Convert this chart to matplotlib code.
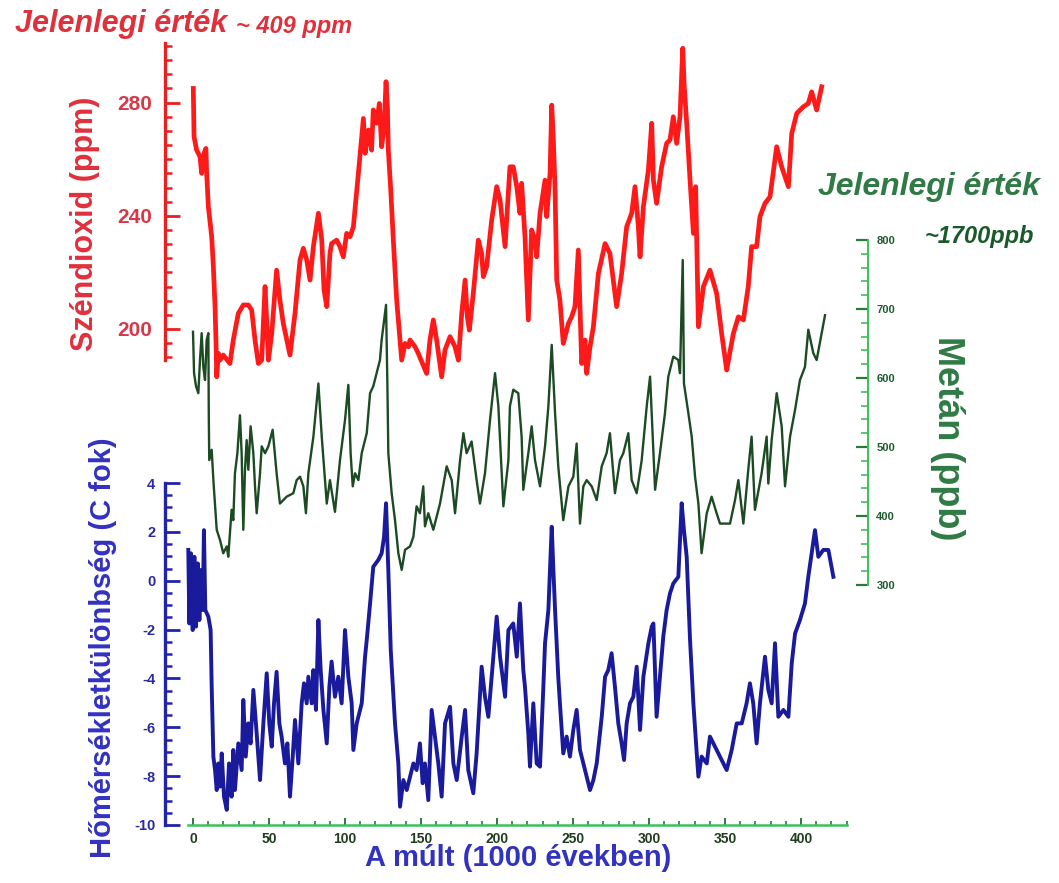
import matplotlib
matplotlib.use('Agg')
import matplotlib.pyplot as plt
from matplotlib.ticker import MultipleLocator, FixedLocator

plt.rcParams['font.family'] = ['Liberation Sans', 'DejaVu Sans']
plt.rcParams['axes.unicode_minus'] = False

# age in 1000 years before present
co2_age = [0.2, 0.7, 2.4, 4.6, 5.7, 7.2, 8.5, 9.0, 10.1, 11.6, 12.3, 13.4, 14.5, 15.1, 15.6,
           16.7, 17.8, 19.9, 24.3, 26.5, 29.8, 33.1, 36.4, 38.6, 40.8, 43.0, 45.2, 47.4, 48.9,
           49.6, 51.8, 55.0, 57.2, 59.4, 63.8, 67.1, 70.4, 72.6, 74.8, 77.0, 79.2, 82.5, 84.7,
           86.2, 88.0, 90.1, 91.2, 94.5, 96.7, 98.9, 101.1, 103.3, 105.5, 108.8, 112.1, 113.2,
           115.4, 117.5, 118.6, 120.8, 122.6, 124.1, 125.7, 127.0, 127.9, 128.5, 130.1, 131.8,
           134.0, 136.2, 137.3, 139.5, 141.7, 142.8, 146.1, 148.2, 153.7, 155.9, 158.1, 160.3,
           163.6, 165.8, 169.1, 172.4, 174.6, 176.8, 179.0, 180.5, 181.8, 184.4, 187.7, 189.9,
           191.0, 193.2, 196.5, 199.8, 202.0, 205.3, 208.5, 210.7, 213.0, 215.1, 216.2, 218.4,
           220.6, 222.8, 225.0, 226.1, 228.3, 231.6, 232.7, 234.9, 236.0, 237.1, 238.2, 239.3,
           241.4, 243.6, 247.0, 249.1, 251.3, 253.5, 254.6, 255.7, 257.9, 259.0, 261.2, 263.4,
           266.7, 271.1, 274.3, 278.7, 282.0, 285.3, 288.6, 290.8, 293.0, 294.1, 296.3, 299.6,
           301.8, 302.9, 305.0, 308.3, 311.6, 313.8, 316.0, 318.2, 320.4, 322.2, 323.2, 324.8,
           327.0, 329.2, 330.7, 332.5, 335.8, 340.1, 344.5, 347.8, 351.1, 355.5, 358.8, 362.1,
           365.3, 367.5, 370.8, 373.0, 376.3, 379.6, 384.0, 387.3, 391.7, 393.9, 397.2, 401.5,
           404.8, 407.0, 410.3, 413.6]
co2_ppm = [285.0, 267.9, 263.2, 260.9, 255.0, 262.1, 263.8, 255.0, 243.2, 236.1, 232.6, 222.0,
           207.9, 196.1, 183.1, 191.4, 189.0, 190.8, 187.8, 196.1, 205.5, 208.5, 208.5, 206.7,
           196.1, 187.8, 189.0, 215.0, 198.4, 189.0, 198.4, 220.8, 210.2, 202.0, 190.8, 205.5,
           224.4, 228.5, 224.4, 217.3, 229.1, 240.9, 231.4, 213.8, 207.9, 226.7, 230.2, 231.4,
           229.1, 225.5, 233.8, 232.6, 236.1, 255.0, 274.4, 262.1, 270.3, 263.2, 277.4, 272.7,
           279.7, 264.4, 271.5, 287.4, 278.5, 263.2, 249.1, 231.4, 210.2, 196.1, 189.0, 194.9,
           193.7, 196.1, 193.7, 191.4, 184.3, 196.1, 203.2, 196.1, 183.1, 192.6, 197.3, 193.7,
           189.0, 205.5, 217.3, 204.3, 199.6, 212.6, 231.4, 226.7, 218.5, 222.0, 238.5, 250.3,
           245.6, 229.1, 257.3, 257.3, 250.3, 240.9, 251.5, 232.6, 203.2, 235.0, 231.4, 225.5,
           240.9, 252.6, 239.7, 255.0, 279.1, 266.8, 249.1, 217.3, 210.2, 194.9, 202.0, 204.3,
           207.9, 227.9, 207.9, 187.8, 196.1, 184.3, 193.7, 200.8, 219.6, 230.2, 226.7, 207.9,
           219.6, 236.1, 240.9, 250.3, 236.1, 225.5, 243.2, 256.2, 272.7, 252.6, 244.4, 257.3,
           265.6, 266.8, 275.0, 265.6, 275.0, 299.2, 285.6, 272.7, 252.6, 233.8, 250.3, 200.8,
           215.0, 220.8, 212.6, 198.4, 185.5, 198.4, 204.3, 203.2, 215.0, 229.1, 229.1, 239.7,
           244.4, 246.7, 264.4, 257.3, 250.3, 269.1, 276.2, 278.5, 279.7, 283.8, 277.4, 285.6]

ch4_age = [0.0, 0.7, 2.0, 3.5, 4.6, 5.7, 6.8, 7.9, 9.0, 10.1, 10.4, 10.7, 12.3, 13.4, 15.6,
           17.8, 19.9, 22.2, 23.2, 24.3, 25.4, 26.5, 27.6, 29.2, 30.9, 32.0, 33.1, 34.2, 35.3,
           36.4, 37.9, 39.7, 40.8, 41.9, 44.1, 45.2, 47.4, 49.6, 52.4, 55.0, 57.2, 61.6, 66.0,
           68.2, 70.4, 72.6, 74.3, 75.9, 79.2, 82.5, 84.7, 88.0, 90.1, 93.4, 96.7, 100.0,
           102.2, 103.7, 105.1, 106.6, 108.8, 111.0, 114.3, 116.5, 118.6, 120.8, 123.0, 124.1,
           125.2, 127.0, 127.9, 128.5, 130.7, 132.9, 135.1, 137.3, 139.5, 142.8, 145.0, 147.1,
           149.3, 151.5, 152.6, 154.8, 158.1, 162.5, 166.9, 170.2, 172.4, 175.7, 177.9, 180.0,
           183.3, 186.6, 188.8, 192.1, 195.4, 198.7, 200.9, 204.2, 207.5, 208.5, 210.7, 214.0,
           216.2, 217.3, 220.6, 222.8, 225.0, 228.3, 231.6, 233.8, 236.0, 238.2, 240.3, 243.6,
           247.0, 250.2, 252.4, 254.6, 256.8, 259.0, 262.3, 265.6, 268.9, 272.1, 274.3, 277.6,
           280.9, 283.1, 286.4, 288.6, 291.9, 295.2, 298.5, 300.7, 304.0, 307.2, 310.5, 312.7,
           316.0, 319.3, 320.4, 322.2, 323.0, 325.9, 328.1, 330.3, 332.5, 334.6, 338.0, 341.2,
           344.5, 346.7, 353.3, 356.6, 358.8, 362.1, 365.3, 367.5, 369.7, 374.1, 377.4, 378.5,
           380.7, 384.0, 387.3, 389.5, 392.8, 396.1, 399.3, 402.6, 404.8, 408.1, 410.3, 413.6,
           415.8]
ch4_ppb = [667, 607, 588, 578, 626, 665, 616, 597, 655, 665, 540, 481, 496, 452, 380, 365, 346,
           356, 341, 375, 409, 394, 462, 491, 546, 491, 380, 467, 510, 467, 530, 491, 443, 404,
           462, 501, 491, 501, 525, 462, 418, 428, 433, 452, 457, 443, 404, 462, 515, 592, 515,
           418, 452, 406, 481, 539, 590, 491, 443, 462, 452, 491, 520, 578, 588, 607, 626, 655,
           674, 706, 588, 491, 433, 394, 346, 322, 351, 356, 370, 414, 404, 443, 385, 404, 380,
           418, 472, 452, 404, 481, 520, 491, 508, 452, 418, 462, 539, 607, 559, 414, 481, 559,
           583, 578, 515, 438, 491, 530, 481, 443, 501, 559, 648, 549, 472, 394, 443, 457, 505,
           389, 443, 452, 443, 423, 472, 491, 520, 433, 481, 491, 520, 452, 433, 481, 559, 602,
           438, 491, 549, 602, 631, 626, 607, 771, 592, 549, 515, 457, 418, 346, 404, 428, 404,
           389, 389, 423, 452, 389, 467, 515, 409, 462, 515, 447, 510, 578, 530, 443, 515, 554,
           597, 616, 670, 636, 626, 665, 691]

temp_age = [-3.1, -2.4, -1.3, -0.2, 0.9, 2.0, 3.1, 4.2, 5.3, 6.4, 7.2, 8.1, 10.1, 11.6, 12.3,
            13.4, 14.5, 15.6, 16.7, 17.8, 18.9, 20.4, 22.2, 23.7, 25.4, 26.5, 27.6, 29.8, 32.0,
            33.1, 34.7, 36.4, 37.9, 39.7, 41.4, 43.0, 44.1, 46.3, 48.5, 50.2, 51.8, 53.3, 55.0,
            56.8, 58.3, 60.5, 62.1, 63.8, 65.6, 67.1, 69.3, 71.5, 73.0, 74.8, 75.9, 78.1, 79.2,
            80.9, 82.5, 84.0, 85.8, 88.0, 89.7, 91.2, 93.4, 95.6, 97.8, 100.0, 102.2, 104.4,
            105.5, 107.7, 111.0, 113.2, 114.3, 116.5, 118.6, 121.9, 124.1, 125.7, 127.0, 128.5,
            130.1, 132.9, 135.1, 136.2, 138.4, 140.6, 142.8, 145.0, 147.1, 149.3, 151.1, 152.6,
            154.8, 157.0, 159.2, 161.4, 163.6, 165.8, 169.1, 171.3, 173.5, 176.8, 179.0, 181.1,
            184.4, 186.6, 189.9, 192.1, 194.3, 196.5, 199.8, 202.0, 205.3, 207.5, 210.7, 213.0,
            215.1, 217.3, 218.4, 220.6, 221.7, 223.9, 226.1, 228.3, 230.5, 231.6, 233.8, 236.0,
            237.1, 238.2, 240.3, 241.4, 243.6, 245.8, 248.0, 250.2, 252.4, 254.6, 256.8, 259.0,
            261.2, 263.4, 265.6, 268.9, 271.1, 273.2, 275.4, 277.6, 279.8, 282.0, 283.6, 285.3,
            287.5, 289.7, 291.9, 294.1, 296.3, 299.6, 301.8, 302.9, 305.0, 307.2, 309.4, 311.6,
            313.8, 316.0, 319.3, 321.5, 323.0, 324.8, 327.0, 329.2, 331.4, 332.5, 334.6, 338.0,
            340.1, 343.4, 345.6, 348.9, 351.1, 354.4, 357.7, 361.0, 364.2, 366.4, 368.6, 370.8,
            373.0, 376.3, 378.5, 380.7, 382.9, 385.1, 388.4, 391.7, 393.9, 396.1, 399.3, 402.6,
            404.8, 407.0, 409.2, 411.4, 414.7, 418.0, 421.3]
temp_diff = [1.26, -1.75, 1.12, -2.02, 0.98, -1.88, 0.71, -1.61, 0.44, -1.2, 2.07, -1.2, -1.47,
             -2.02, -4.34, -7.2, -7.75, -8.57, -7.48, -8.43, -7.07, -8.84, -9.38, -7.48, -8.84,
             -6.93, -8.57, -6.66, -7.75, -4.88, -7.2, -5.84, -6.66, -4.47, -5.84, -7.2, -8.16,
             -5.84, -3.79, -5.84, -6.79, -5.02, -3.73, -5.84, -6.38, -7.48, -6.66, -8.84, -7.2,
             -5.7, -7.48, -5.02, -4.2, -5.02, -3.93, -5.02, -3.66, -5.29, -1.61, -3.66, -5.29,
             -6.66, -4.34, -3.31, -4.75, -3.93, -5.02, -2.02, -3.93, -5.02, -6.93, -5.84, -5.02,
             -3.11, -2.43, -0.93, 0.57, 0.85, 1.12, 1.8, 3.17, 0.44, -2.84, -5.84, -7.48, -9.25,
             -8.16, -8.57, -8.02, -7.48, -7.75, -6.66, -8.29, -7.48, -8.98, -5.29, -6.38, -7.48,
             -8.84, -5.84, -5.16, -7.48, -8.16, -6.38, -5.29, -7.75, -8.7, -7.07, -3.52, -4.75,
             -5.57, -3.93, -1.47, -3.11, -4.75, -2.02, -1.75, -3.11, -0.93, -3.66, -4.34, -6.25,
             -7.61, -5.02, -7.48, -7.61, -4.34, -2.56, -1.2, 2.21, 0.44, -1.2, -3.93, -5.02,
             -7.07, -6.38, -7.2, -6.11, -5.29, -6.93, -7.48, -8.02, -8.57, -8.16, -7.48, -5.57,
             -3.93, -3.66, -2.97, -4.34, -5.84, -6.66, -7.34, -5.84, -5.02, -4.75, -3.52, -6.11,
             -3.93, -2.56, -1.88, -1.75, -5.57, -3.93, -2.29, -1.2, -0.52, -0.11, 0.16, 3.17,
             2.07, 0.98, -2.43, -5.02, -7.07, -8.02, -7.2, -7.48, -6.38, -6.79, -7.07, -7.48,
             -7.75, -6.93, -5.84, -5.84, -5.02, -4.2, -5.02, -6.66, -5.02, -3.11, -4.47, -5.02,
             -2.56, -5.57, -5.29, -5.57, -3.38, -2.16, -1.61, -0.93, 0.16, 1.12, 2.07, 0.98,
             1.26, 1.26, 0.16]

W, H = 1059, 883


def rect(left, top, right, bottom):
    return [left / W, 1 - bottom / H, (right - left) / W, (bottom - top) / H]


xlim = ((165 - 193) / 1.52, (868 - 193) / 1.52)

red = '#ff1a1a'
red_txt = '#e0303c'
dkgreen = '#1c4a22'
green_txt = '#2f7a45'
green_ax = '#3cc05a'
blue = '#1a1a9c'
blue_txt = '#3232c0'

fig = plt.figure(figsize=(W / 100, H / 100), dpi=100)

# CO2
ax_c = fig.add_axes(rect(165, 43, 868, 360))
ax_c.patch.set_visible(False)
ax_c.plot(co2_age, co2_ppm, color=red, lw=3.4, clip_on=False, zorder=3)
ax_c.set_xlim(xlim)
ax_c.set_ylim(200 + (329 - 360) / 2.83, 200 + (329 - 43) / 2.83)
for s in ['top', 'right', 'bottom']:
    ax_c.spines[s].set_visible(False)
ax_c.spines['left'].set_color('#e82020')
ax_c.spines['left'].set_linewidth(2.4)
ax_c.set_xticks([])
ax_c.yaxis.set_major_locator(MultipleLocator(40))
ax_c.yaxis.set_minor_locator(MultipleLocator(5))
ax_c.tick_params(axis='y', which='major', direction='in', length=11, width=2,
                 color='#e82020', labelcolor='#d83848', labelsize=15, pad=9)
ax_c.tick_params(axis='y', which='minor', direction='in', length=5, width=1.8, color='#e82020')
for lab in ax_c.get_yticklabels():
    lab.set_fontweight('bold')

# methane
ax_m = fig.add_axes(rect(165, 240, 868, 585))
ax_m.patch.set_visible(False)
ax_m.plot(ch4_age, ch4_ppb, color=dkgreen, lw=1.7, clip_on=False, zorder=2)
ax_m.set_xlim(xlim)
ax_m.set_ylim(300, 800)
for s in ['top', 'left', 'bottom']:
    ax_m.spines[s].set_visible(False)
ax_m.spines['right'].set_color(green_ax)
ax_m.spines['right'].set_linewidth(1.4)
ax_m.set_xticks([])
ax_m.yaxis.tick_right()
ax_m.yaxis.set_major_locator(MultipleLocator(100))
ax_m.yaxis.set_minor_locator(MultipleLocator(20))
ax_m.tick_params(axis='y', which='major', direction='in', length=9, width=1.6,
                 color='#2a7a3a', labelcolor='#1d5a2d', labelsize=8, pad=6)
ax_m.tick_params(axis='y', which='minor', direction='in', length=5, width=1.2, color=green_ax)
for lab in ax_m.get_yticklabels():
    lab.set_fontweight('bold')

# temperature + time axis
ax_t = fig.add_axes(rect(165, 483, 868, 825))
ax_t.patch.set_visible(False)
ax_t.plot(temp_age, temp_diff, color=blue, lw=2.8, clip_on=False, zorder=2)
ax_t.set_xlim(xlim)
ax_t.set_ylim(-10, 4)
for s in ['top', 'right']:
    ax_t.spines[s].set_visible(False)
ax_t.spines['left'].set_color('#2222aa')
ax_t.spines['left'].set_linewidth(2.4)
ax_t.spines['bottom'].set_color(green_ax)
ax_t.spines['bottom'].set_linewidth(1.8)
ax_t.spines['bottom'].set_bounds(-3, 430)
ax_t.yaxis.set_major_locator(MultipleLocator(2))
ax_t.yaxis.set_minor_locator(MultipleLocator(0.5))
ax_t.tick_params(axis='y', which='major', direction='in', length=11, width=2,
                 color='#2222aa', labelcolor='#2a2aa0', labelsize=10.5, pad=7)
ax_t.tick_params(axis='y', which='minor', direction='in', length=5, width=1.8, color='#2222aa')
ax_t.set_xticks(range(0, 401, 50))
ax_t.xaxis.set_minor_locator(FixedLocator(range(0, 431, 10)))
ax_t.tick_params(axis='x', which='major', direction='in', length=5, width=1.4,
                 color='#2a7a3a', labelcolor='#1e3e1e', labelsize=10, pad=5)
ax_t.tick_params(axis='x', which='minor', direction='in', length=3, width=1.2, color='#2a7a3a')
for lab in ax_t.get_yticklabels() + ax_t.get_xticklabels():
    lab.set_fontweight('bold')


def ftext(x, y, s, **kw):
    fig.text(x / W, 1 - y / H, s, fontweight='bold', **kw)


ftext(15, 24, 'Jelenlegi érték', color=red_txt, fontsize=22, style='italic', va='center')
ftext(236, 27, '~ 409 ppm', color=red_txt, fontsize=17, style='italic', va='center')
ftext(818, 187, 'Jelenlegi érték', color=green_txt, fontsize=23, style='italic', va='center')
ftext(925, 236, '~1700ppb', color='#1a5a2a', fontsize=17, style='italic', va='center')
ftext(85, 224, 'Széndioxid (ppm)', color=red_txt, fontsize=22, rotation=90,
      ha='center', va='center')
ftext(947, 438, 'Metán (ppb)', color=green_txt, fontsize=26, rotation=270,
      ha='center', va='center')
ftext(103, 648, 'Hőmérsékletkülönbség (C fok)', color=blue_txt, fontsize=21, rotation=90,
      ha='center', va='center')
ftext(518, 858, 'A múlt (1000 években)', color=blue_txt, fontsize=21, ha='center', va='center')

fig.savefig('out.png', dpi=100)
